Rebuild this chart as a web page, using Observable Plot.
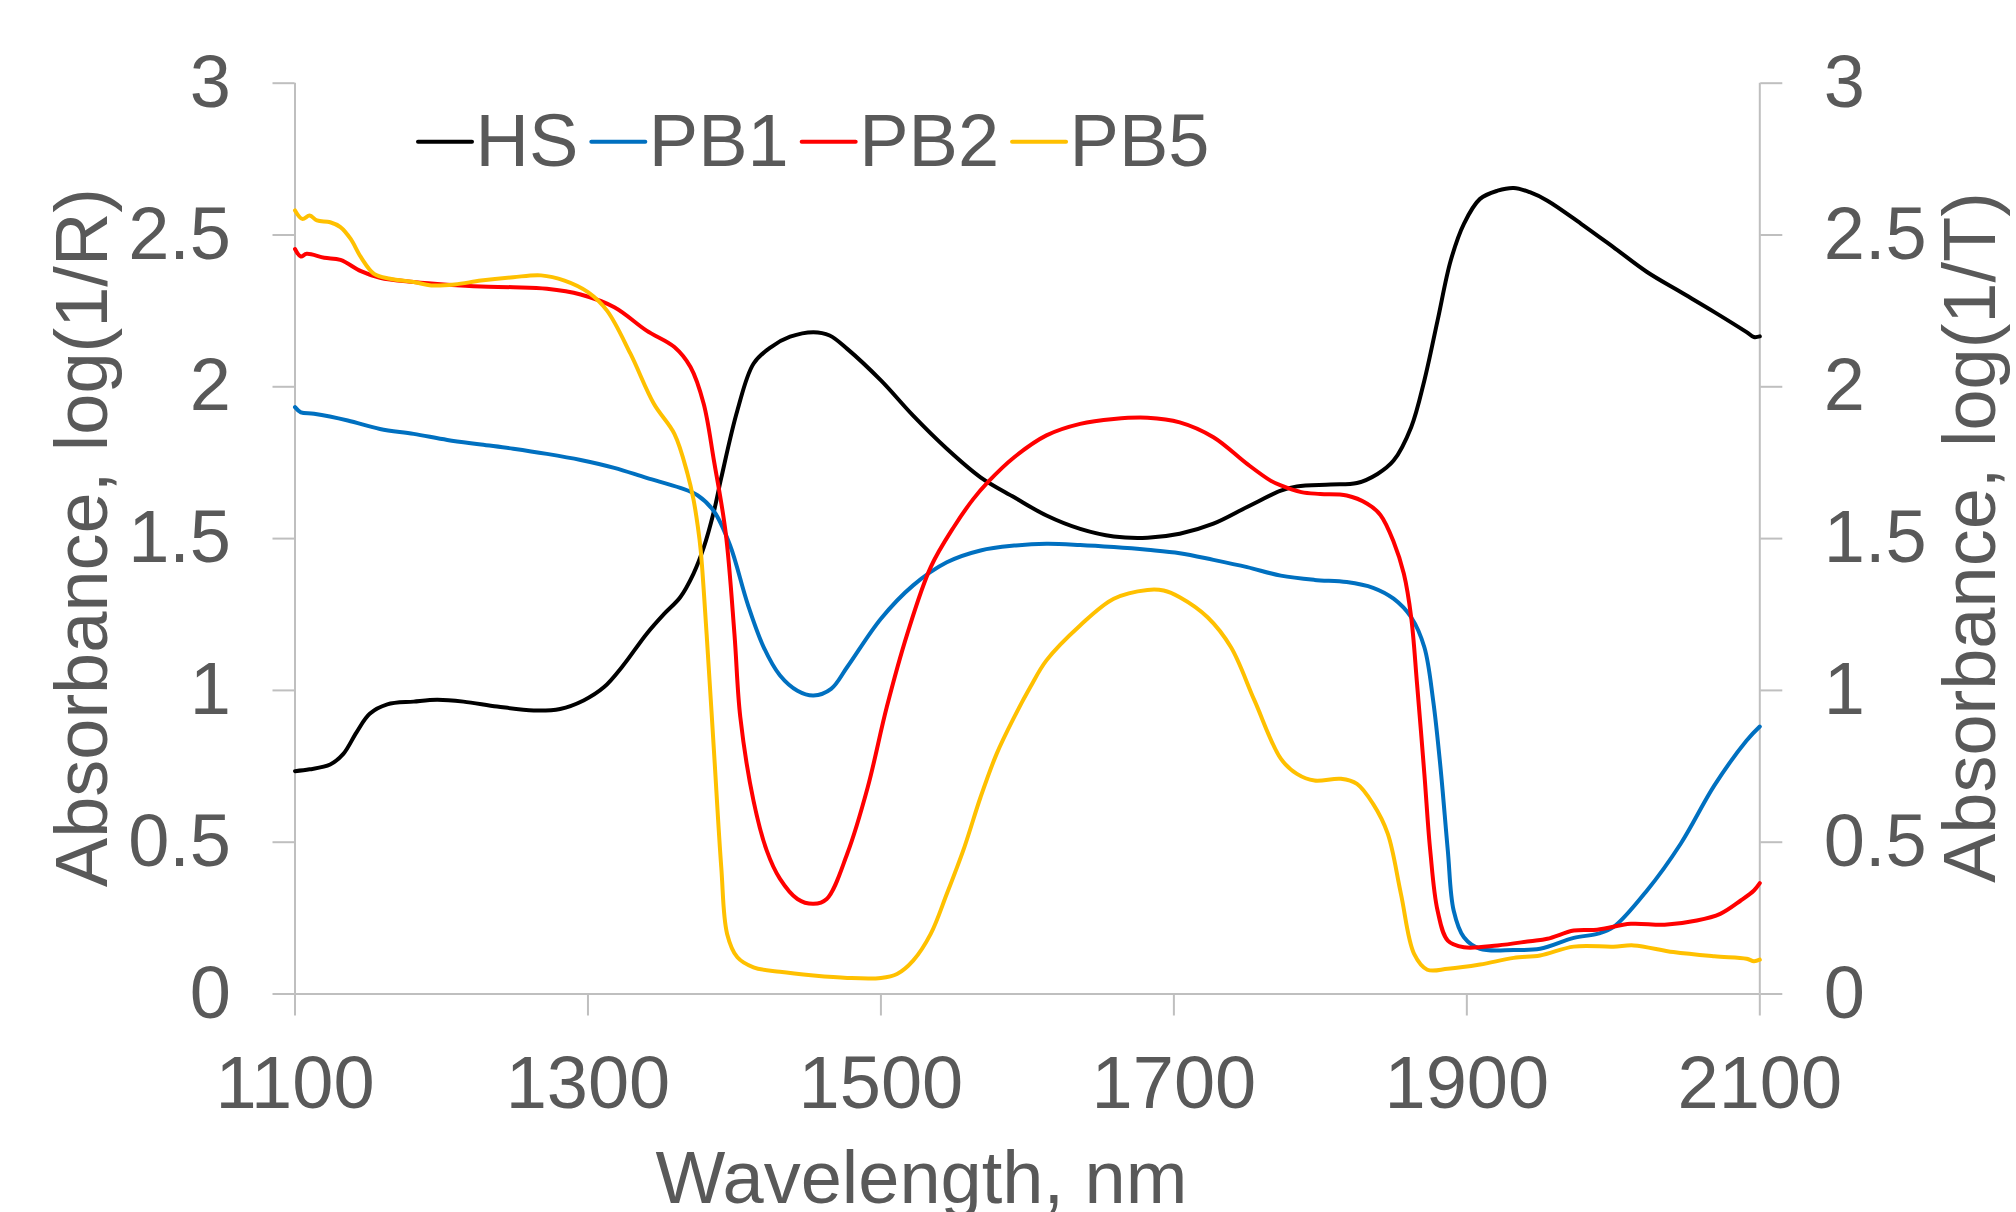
<!DOCTYPE html>
<html><head><meta charset="utf-8">
<script src="https://cdn.jsdelivr.net/npm/d3@7"></script>
<script src="https://cdn.jsdelivr.net/npm/@observablehq/plot@0.6"></script>
<style>
html,body{margin:0;padding:0;background:#fff;}
#chart{position:relative;width:2016px;height:1212px;overflow:hidden;}
</style></head><body><div id="chart"></div>
<script>
const seriesNames = ["HS","PB1","PB2","PB5"];
const seriesColors = ["#000000","#0070C0","#FF0000","#FFC000"];

const hs = [[1100,0.734],[1110,0.740],[1124,0.756],[1133,0.791],[1142,0.862],[1151,0.923],[1163,0.954],[1181,0.963],[1197,0.969],[1215,0.963],[1238,0.947],[1263,0.934],[1281,0.939],[1297,0.967],[1311,1.011],[1324,1.082],[1340,1.186],[1352,1.252],[1363,1.307],[1372,1.384],[1379,1.47],[1386,1.59],[1391,1.70],[1402,1.922],[1413,2.076],[1425,2.131],[1438,2.165],[1454,2.180],[1465,2.169],[1477,2.125],[1500,2.021],[1522,1.905],[1545,1.796],[1568,1.702],[1591,1.636],[1613,1.576],[1636,1.532],[1659,1.507],[1682,1.503],[1704,1.516],[1727,1.549],[1750,1.604],[1773,1.658],[1784,1.672],[1807,1.678],[1825,1.683],[1839,1.713],[1850,1.757],[1862,1.867],[1871,2.021],[1880,2.218],[1889,2.416],[1898,2.537],[1909,2.619],[1921,2.646],[1932,2.655],[1943,2.641],[1955,2.613],[1978,2.537],[2000,2.460],[2023,2.378],[2046,2.312],[2069,2.246],[2091,2.180],[2096,2.164],[2100,2.166]];

const pb1 = [[1100,1.933],[1104,1.916],[1113,1.911],[1136,1.889],[1158,1.861],[1181,1.845],[1204,1.825],[1227,1.810],[1249,1.796],[1272,1.779],[1295,1.759],[1318,1.733],[1340,1.700],[1363,1.667],[1375,1.642],[1386,1.590],[1397,1.478],[1409,1.285],[1420,1.142],[1431,1.050],[1443,0.999],[1454,0.983],[1466,1.005],[1477,1.077],[1500,1.236],[1522,1.346],[1545,1.422],[1568,1.461],[1591,1.477],[1613,1.483],[1636,1.479],[1659,1.472],[1682,1.463],[1704,1.452],[1727,1.430],[1750,1.406],[1773,1.378],[1796,1.364],[1818,1.357],[1836,1.338],[1850,1.302],[1862,1.241],[1871,1.142],[1877,0.967],[1882,0.747],[1887,0.473],[1891,0.275],[1898,0.187],[1909,0.149],[1932,0.145],[1950,0.149],[1973,0.185],[1989,0.198],[2000,0.220],[2023,0.341],[2046,0.495],[2069,0.687],[2091,0.835],[2100,0.881]];

const pb2 = [[1100,2.454],[1104,2.429],[1108,2.438],[1120,2.425],[1131,2.418],[1145,2.381],[1158,2.359],[1181,2.345],[1204,2.336],[1227,2.330],[1249,2.328],[1272,2.323],[1295,2.304],[1318,2.262],[1340,2.185],[1359,2.131],[1370,2.065],[1379,1.944],[1386,1.757],[1394,1.52],[1400,1.186],[1404,0.912],[1413,0.637],[1422,0.473],[1431,0.380],[1443,0.313],[1454,0.297],[1463,0.313],[1477,0.462],[1491,0.681],[1504,0.945],[1518,1.186],[1534,1.406],[1550,1.54],[1563,1.63],[1573,1.686],[1591,1.768],[1613,1.840],[1636,1.878],[1659,1.894],[1682,1.898],[1704,1.883],[1727,1.834],[1750,1.746],[1766,1.691],[1773,1.675],[1787,1.653],[1800,1.647],[1818,1.642],[1832,1.615],[1841,1.578],[1850,1.490],[1857,1.384],[1862,1.241],[1866,1.022],[1871,0.725],[1875,0.473],[1880,0.275],[1887,0.176],[1898,0.154],[1921,0.160],[1943,0.174],[1955,0.182],[1973,0.209],[1989,0.212],[2012,0.231],[2035,0.228],[2057,0.242],[2073,0.264],[2087,0.308],[2096,0.341],[2100,0.365]];

const pb5 = [[1100,2.581],[1105,2.553],[1110,2.564],[1115,2.548],[1124,2.542],[1131,2.526],[1138,2.487],[1145,2.427],[1154,2.372],[1165,2.356],[1181,2.345],[1193,2.334],[1209,2.337],[1227,2.350],[1249,2.361],[1268,2.367],[1284,2.350],[1300,2.312],[1313,2.251],[1329,2.109],[1345,1.944],[1359,1.845],[1368,1.713],[1372,1.63],[1375,1.54],[1377,1.46],[1381,1.186],[1386,0.802],[1391,0.418],[1395,0.198],[1402,0.121],[1413,0.088],[1431,0.073],[1454,0.061],[1477,0.053],[1500,0.053],[1511,0.066],[1522,0.110],[1534,0.198],[1545,0.330],[1557,0.484],[1568,0.648],[1579,0.791],[1591,0.912],[1602,1.011],[1613,1.099],[1636,1.214],[1659,1.302],[1682,1.331],[1693,1.329],[1704,1.307],[1723,1.241],[1739,1.142],[1755,0.967],[1773,0.775],[1784,0.725],[1796,0.703],[1814,0.709],[1825,0.692],[1836,0.626],[1846,0.528],[1855,0.330],[1864,0.132],[1873,0.080],[1887,0.083],[1909,0.097],[1932,0.119],[1950,0.127],[1973,0.156],[2000,0.156],[2014,0.160],[2041,0.138],[2069,0.124],[2091,0.116],[2096,0.108],[2100,0.113]];

const xTicks = [1100,1300,1500,1700,1900,2100];
const yTicks = [0,0.5,1,1.5,2,2.5,3];
const xTitle = "Wavelength, nm";
const yTitleLeft = "Absorbance, log(1/R)";
const yTitleRight = "Absorbance, log(1/T)";

const rows = [];
[hs,pb1,pb2,pb5].forEach((arr,i)=>arr.forEach(([w,a])=>rows.push({series:seriesNames[i], w, a})));

const font = "'Liberation Sans', Arial, sans-serif";
const textColor = "#595959";
const axisColor = "#BFBFBF";
const fs = 74;

const plot = Plot.plot({
  width:2016, height:1212,
  marginLeft:294.5, marginRight:256.7, marginTop:82.7, marginBottom:218.5,
  style:{fontFamily:font, fontSize:fs+"px", color:textColor, background:"#fff"},
  x:{domain:[1100,2100]},
  y:{domain:[0,3]},
  color:{domain:seriesNames, range:seriesColors},
  marks:[
    Plot.ruleX([1100,2100],{stroke:axisColor,strokeWidth:2}),
    Plot.ruleY([0],{stroke:axisColor,strokeWidth:2}),
    Plot.axisX({ticks:xTicks, tickSize:22, tickPadding:39, stroke:axisColor, strokeWidth:2, fill:textColor, fontSize:fs, label:null, tickFormat:d=>String(d)}),
    Plot.axisY({anchor:"left", ticks:yTicks, tickSize:22, tickPadding:42, stroke:axisColor, strokeWidth:2, fill:textColor, fontSize:fs, label:null, tickFormat:d=>String(d)}),
    Plot.axisY({anchor:"right", ticks:yTicks, tickSize:22, tickPadding:42, stroke:axisColor, strokeWidth:2, fill:textColor, fontSize:fs, label:null, tickFormat:d=>String(d)}),
    Plot.line(rows,{x:"w", y:"a", z:"series", stroke:"series", strokeWidth:4, curve:"catmull-rom"}),
    Plot.text([yTitleLeft],{text:d=>d, frameAnchor:"left", rotate:-90, dx:-212, dy:-1, fontSize:fs, fill:textColor, textAnchor:"middle", lineAnchor:"middle"}),
    Plot.text([yTitleRight],{text:d=>d, frameAnchor:"right", rotate:-90, dx:212, dy:-1, fontSize:fs, fill:textColor, textAnchor:"middle", lineAnchor:"middle"}),
    Plot.text([xTitle],{text:d=>d, frameAnchor:"bottom", dx:-106, dy:185, fontSize:fs, fill:textColor, textAnchor:"middle", lineAnchor:"middle"})
  ]
});
document.getElementById("chart").appendChild(plot);

// legend (inside plot, top)
const svg = d3.select(plot);
const lg = svg.append("g").attr("font-family", font).attr("font-size", fs).attr("fill", textColor).attr("text-anchor","start");
let lx = 418;
seriesNames.forEach((name,i)=>{
  lg.append("line").attr("x1",lx).attr("x2",lx+54).attr("y1",141.7).attr("y2",141.7)
    .attr("stroke",seriesColors[i]).attr("stroke-width",4).attr("stroke-linecap","round");
  const t = lg.append("text").attr("x",lx+57.5).attr("y",166).attr("text-anchor","start").text(name);
  const len = t.node().getComputedTextLength();
  lx = lx + 57.5 + len + 13;
});
</script>
</body></html>
